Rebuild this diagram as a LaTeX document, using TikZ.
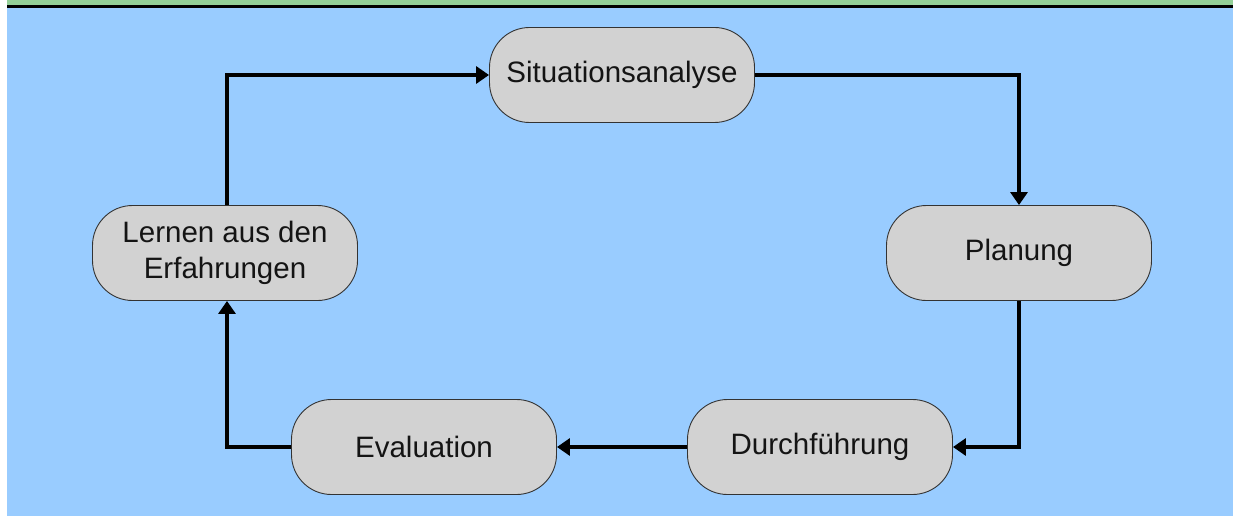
\documentclass[tikz,border=0pt]{standalone}
\usepackage{fontspec}
\setmainfont{Liberation Sans}
\usetikzlibrary{arrows.meta}
\definecolor{skyblue}{HTML}{99CCFF}
\definecolor{bandgreen}{HTML}{93D098}
\definecolor{boxgray}{HTML}{D2D2D2}
\begin{document}
\begin{tikzpicture}[x=1pt,y=-1pt,
  stage/.style={draw=black!80, line width=0.9pt, fill=boxgray, rounded corners=40pt,
    minimum width=265pt, minimum height=95pt, align=center,
    font=\fontsize{29.5}{36}\selectfont, text=black!92, inner sep=0pt},
  flow/.style={line width=3.2pt, -{Triangle[length=13pt,width=17pt]}}]
  % page and frame
  \fill[white] (0,0) rectangle (1233,516);
  \fill[skyblue] (7,8) rectangle (1233,516);
  \fill[bandgreen] (7,0) rectangle (1233,5.5);
  \fill[black] (7,5.5) rectangle (1233,8);
  \useasboundingbox (0,0) rectangle (1233,516);

  % process stages
  \node[stage] (sit) at (622,75) {Situationsanalyse};
  \node[stage] (plan) at (1019,253) {Planung};
  \node[stage] (durch) at (820,447) {Durchführung};
  \node[stage] (eval) at (424,447) {Evaluation};
  \node[stage] (lern) at (225,253) {Lernen aus den\\Erfahrungen};

  % cycle connectors
  \draw[flow] (lern.north -| 227,0) |- (sit.west);
  \draw[flow] (sit.east) -| (plan.north);
  \draw[flow] (plan.south) |- (durch.east);
  \draw[flow] (durch.west) -- (eval.east);
  \draw[flow] (eval.west) -| (lern.south -| 227,0);
\end{tikzpicture}
\end{document}
